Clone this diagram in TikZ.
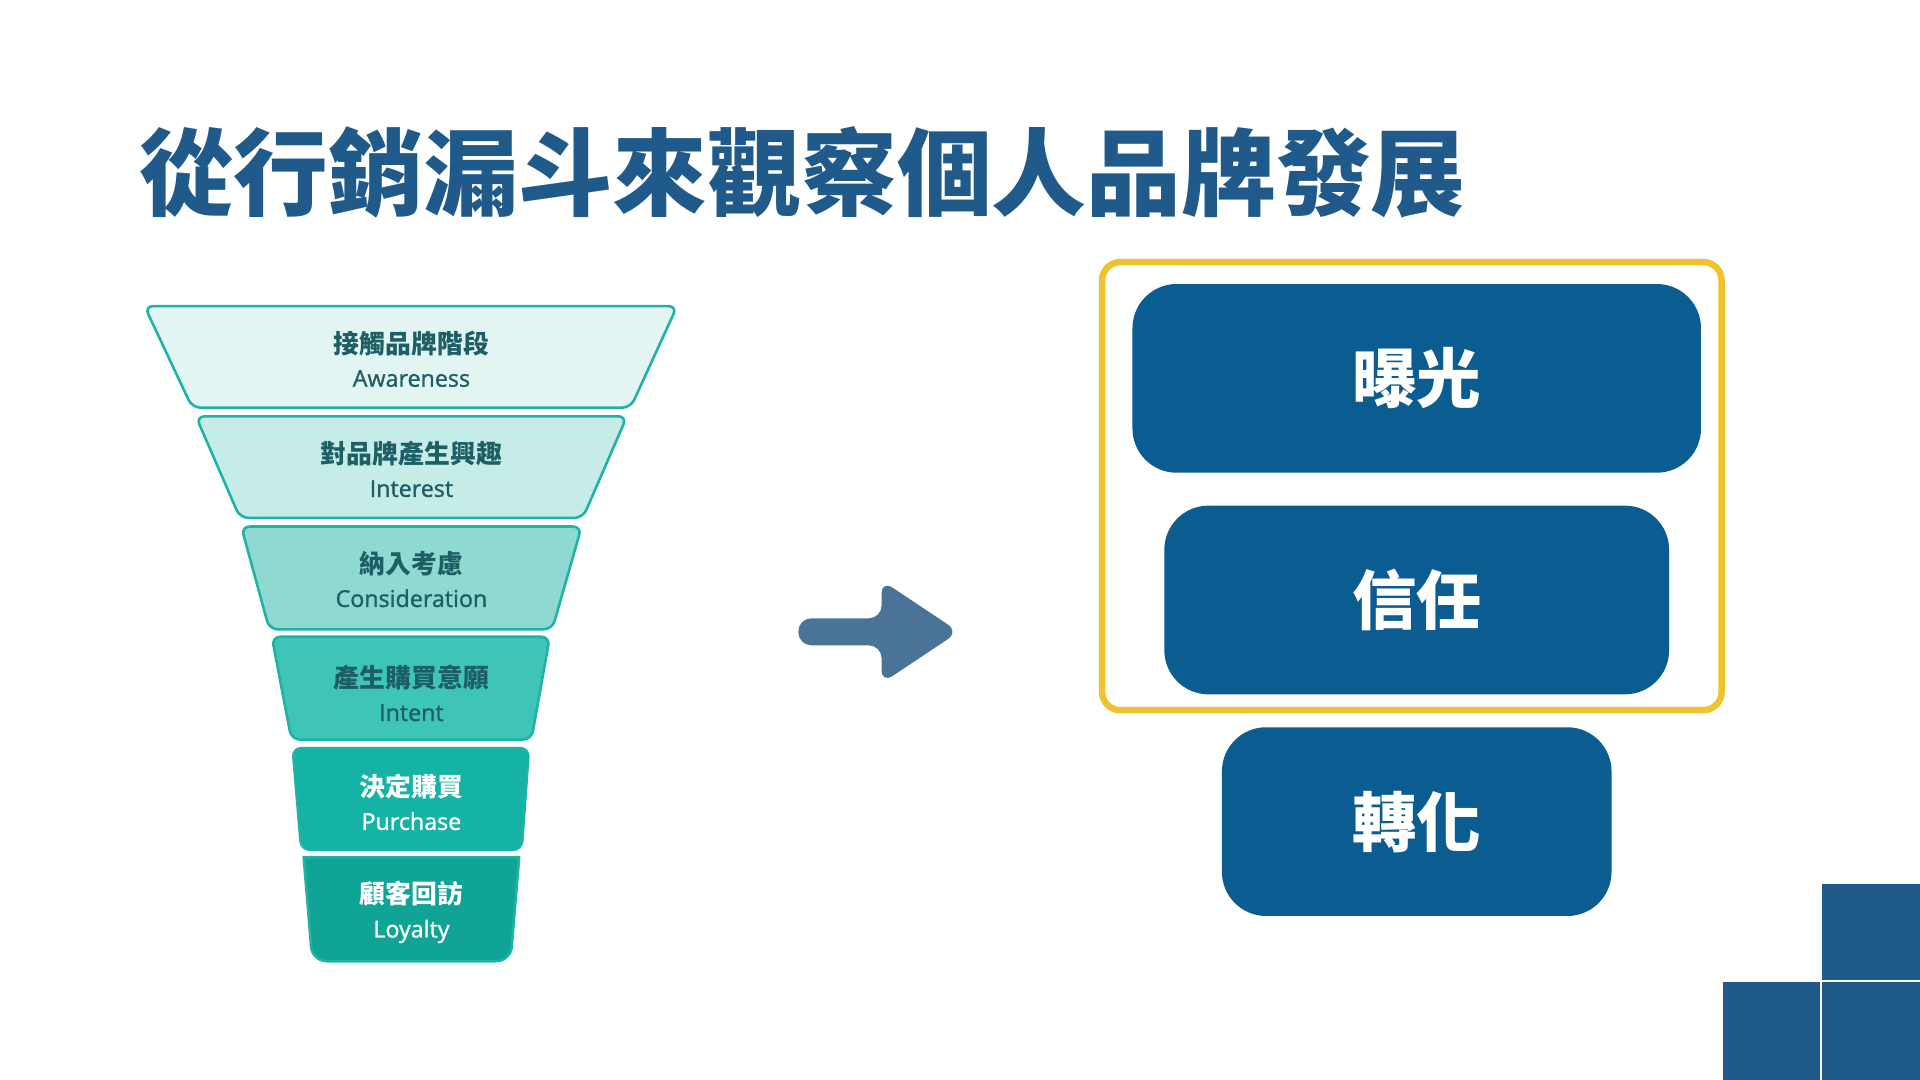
\documentclass[tikz,border=0pt]{standalone}
\usepackage{fontspec}
\setmainfont{Noto Sans CJK TC}
\newfontfamily\latinfont{Open Sans}[FakeBold=1.2]
\usetikzlibrary{arrows.meta,calc,positioning}
\definecolor{titleblue}{HTML}{1F5A8A}
\definecolor{boxblue}{HTML}{0B5C91}
\definecolor{arrowblue}{HTML}{4A7398}
\definecolor{frameyellow}{HTML}{F2C12E}
\definecolor{tealline}{HTML}{1FB3A6}
\definecolor{tealtext}{HTML}{1E5F66}
\tikzset{%
  % Specifications for style of nodes:
            stage/.style      = {draw=tealline, line width=0.6pt, line join=round, rounded corners=2pt},
            stagelabel/.style = {align=center, font=\bfseries\fontsize{6}{7.8}\selectfont},
            stepbox/.style    = {rectangle, rounded corners=0.36cm, fill=boxblue,
                                 text=white, font=\bfseries\fontsize{15}{18}\selectfont}
                           }
\newcommand{\eng}[1]{{\latinfont\mdseries\fontsize{5.4}{7}\selectfont #1}}
\begin{document}
\begin{tikzpicture}[x=0.01cm, y=-0.01cm]
  \useasboundingbox[fill=white] (0,0) rectangle (1568,882);
  \node (title) [anchor=base west, inner sep=0, text=titleblue,
                 font=\bfseries\fontsize{22}{26}\selectfont] at (113,170) {從行銷漏斗來觀察個人品牌發展};

  % funnel
  \foreach \ya/\yb/\xa/\xb/\xc/\xd/\col in {250/333/118/553/157/515/E3F5F3,
                                           340/423/160/512/196/476/C6ECE8,
                                           430/514/197/475/220/451/8ED9D2,
                                           520/604/222/449/238/434/3FC4B8,
                                           611/694/239/432/246/426/14B3A6}{
    \definecolor{stagefill}{HTML}{\col}
    \draw[stage, fill=stagefill] (\xa,\ya) -- (\xb,\ya) -- (\xd,\yb) -- (\xc,\yb) -- cycle;
  }
  \definecolor{lastteal}{HTML}{10A497}
  \draw[stage, fill=lastteal, rounded corners=0] (248,700) -- (424,700) -- (418,772) to[out=-90,in=0] (405,785)
       -- (267,785) to[out=180,in=-90] (254,772) -- cycle;

  \node (aware)    [stagelabel, text=tealtext] at (336,293) {接觸品牌階段\\\eng{Awareness}};
  \node (interest) [stagelabel, text=tealtext] at (336,383) {對品牌產生興趣\\\eng{Interest}};
  \node (consider) [stagelabel, text=tealtext] at (336,473) {納入考慮\\\eng{Consideration}};
  \node (intent)   [stagelabel, text=tealtext] at (336,566) {產生購買意願\\\eng{Intent}};
  \node (purchase) [stagelabel, text=white]    at (336,655) {決定購買\\\eng{Purchase}};
  \node (loyalty)  [stagelabel, text=white]    at (336,745) {顧客回訪\\\eng{Loyalty}};

  % arrow
  \fill[arrowblue, rounded corners=3pt] (652,505) -- (720,505) -- (720,474) -- (783,516)
       -- (720,558) -- (720,527) -- (652,527) -- cycle;

  % steps
  \draw[frameyellow, line width=1.5pt, rounded corners=0.15cm] (900,214) rectangle (1406,580);
  \node (expose) [stepbox, minimum width=4.64cm, minimum height=1.54cm] at (1157,309) {曝光};
  \node (trust)  [stepbox, minimum width=4.12cm, minimum height=1.54cm] at (1157,490) {信任};
  \node (conv)   [stepbox, minimum width=3.18cm, minimum height=1.54cm] at (1157,671) {轉化};

  % corner blocks
  \fill[titleblue] (1488,722) rectangle (1568,800);
  \fill[titleblue] (1407,802) rectangle (1486,882);
  \fill[titleblue] (1488,802) rectangle (1568,882);
\end{tikzpicture}
\end{document}
